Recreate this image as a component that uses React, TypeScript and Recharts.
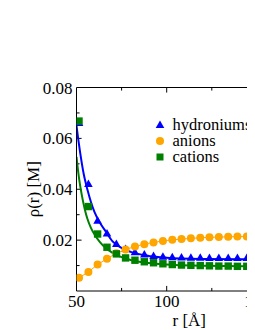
import {
  ComposedChart,
  XAxis,
  YAxis,
  Scatter,
  Line,
  ReferenceLine,
} from "recharts";

const FONT = '"Liberation Serif", "DejaVu Serif", "Noto Serif", Tinos, serif';

// sampled radii of the simulation points
const R = [
  51.4, 56.6, 61.7, 66.9, 72.1, 77.2, 82.4, 87.6, 92.7, 97.9, 103.1, 108.2,
  113.4, 118.6, 123.7, 128.9, 134.1, 139.2, 144.4, 149.6,
];
const HYDRONIUMS = [
  0.066, 0.0421, 0.0276, 0.0226, 0.0185, 0.0165, 0.0152, 0.0143, 0.0138,
  0.0135, 0.0133, 0.0132, 0.0131, 0.0131, 0.013, 0.013, 0.013, 0.013, 0.013,
  0.013,
];
const ANIONS = [
  0.0052, 0.0075, 0.0104, 0.0127, 0.0148, 0.0163, 0.0175, 0.0184, 0.0191,
  0.0197, 0.0201, 0.0204, 0.0207, 0.0209, 0.0211, 0.0212, 0.0213, 0.0214,
  0.0214, 0.0215,
];
const CATIONS = [
  0.0668, 0.0332, 0.0224, 0.0172, 0.0146, 0.013, 0.0121, 0.0115, 0.0111,
  0.0107, 0.0104, 0.0102, 0.0101, 0.01, 0.0099, 0.0098, 0.0098, 0.0097,
  0.0097, 0.0097,
];

// fitted curves
const FIT_R = [
  50, 51, 52, 53, 54, 55, 56, 58, 60, 63, 66, 70, 75, 80, 90, 100, 120, 150,
  175,
];
const FIT_HYDRONIUMS = [
  0.065, 0.0595, 0.0545, 0.05, 0.046, 0.0428, 0.04, 0.035, 0.031, 0.0268,
  0.0236, 0.0195, 0.0169, 0.0154, 0.0138, 0.0131, 0.0126, 0.0124, 0.0123,
];
const FIT_CATIONS = [
  0.0527, 0.0465, 0.0415, 0.0375, 0.034, 0.031, 0.0285, 0.0248, 0.0222,
  0.0192, 0.017, 0.015, 0.0133, 0.0122, 0.011, 0.0104, 0.0099, 0.0097,
  0.0096,
];

const X_TICKS = [50, 100, 150];
const X_MINOR = [75, 125, 175];
const Y_TICKS = [0.02, 0.04, 0.06, 0.08];
const Y_MINOR = [0.01, 0.03, 0.05, 0.07];

const BLUE = "#0000ff";
const ORANGE = "#ffa500";
const GREEN = "#008000";

const pts = (xs: number[], ys: number[]) => xs.map((r, i) => ({ r, v: ys[i] }));

const Triangle = (p: any) => (
  <polygon
    points={`${p.cx},${p.cy - 4.5} ${p.cx + 4.3},${p.cy + 3} ${p.cx - 4.3},${p.cy + 3}`}
    fill={BLUE}
  />
);
const Circle = (p: any) => <circle cx={p.cx} cy={p.cy} r={4} fill={ORANGE} />;
const Square = (p: any) => (
  <rect x={p.cx - 3.7} y={p.cy - 3.7} width={7.4} height={7.4} fill={GREEN} />
);

const LEGEND = [
  { name: "hydroniums", color: BLUE, kind: "triangle" },
  { name: "anions", color: ORANGE, kind: "circle" },
  { name: "cations", color: GREEN, kind: "square" },
];

const legendMarker = (kind: string, color: string) => {
  if (kind === "triangle") return <polygon points="8,3.5 12.3,11 3.7,11" fill={color} />;
  if (kind === "circle") return <circle cx={8} cy={8} r={4} fill={color} />;
  return <rect x={4.5} y={4.5} width={7} height={7} fill={color} />;
};

const tickFont = { fontSize: 17, fill: "#000", fontFamily: FONT };
const XT = 0.002; // tick lengths in data units
const XT_MINOR = 0.0012;
const YT = 2.8;
const YT_MINOR = 1.7;

export default function App() {
  return (
    <div
      style={{
        position: "relative",
        width: 247,
        height: 322,
        overflow: "hidden",
        fontFamily: FONT,
      }}
    >
      <ComposedChart
        width={310}
        height={322}
        margin={{ top: 79.5, right: 16, bottom: 0, left: 0 }}
      >
        <XAxis
          type="number"
          dataKey="r"
          domain={[50, 175]}
          ticks={X_TICKS}
          allowDataOverflow
          height={39}
          tickLine={false}
          tickSize={0}
          tickMargin={4}
          tick={tickFont}
          axisLine={{ stroke: "#000" }}
          label={{ value: "r [Å]", position: "center", dy: 9.5, ...tickFont }}
        />
        <YAxis
          type="number"
          dataKey="v"
          domain={[0, 0.08]}
          ticks={Y_TICKS}
          allowDataOverflow
          width={68.5}
          tickLine={false}
          tickSize={0}
          tickMargin={4}
          tick={tickFont}
          tickFormatter={(v: number) => v.toFixed(2)}
          axisLine={{ stroke: "#000" }}
          label={{
            value: "ρ(r) [M]",
            angle: -90,
            position: "center",
            dx: -9,
            ...tickFont,
          }}
        />
        <ReferenceLine y={0.08} stroke="#000" />
        {X_TICKS.slice(1).map((x) => (
          <ReferenceLine key={"xb" + x} segment={[{ x, y: 0 }, { x, y: XT }]} stroke="#000" />
        ))}
        {X_TICKS.slice(1).map((x) => (
          <ReferenceLine key={"xt" + x} segment={[{ x, y: 0.08 }, { x, y: 0.08 - XT }]} stroke="#000" />
        ))}
        {X_MINOR.map((x) => (
          <ReferenceLine key={"xbm" + x} segment={[{ x, y: 0 }, { x, y: XT_MINOR }]} stroke="#000" />
        ))}
        {X_MINOR.map((x) => (
          <ReferenceLine key={"xtm" + x} segment={[{ x, y: 0.08 }, { x, y: 0.08 - XT_MINOR }]} stroke="#000" />
        ))}
        {Y_TICKS.slice(0, 3).map((y) => (
          <ReferenceLine key={"y" + y} segment={[{ x: 50, y }, { x: 50 + YT, y }]} stroke="#000" />
        ))}
        {Y_MINOR.map((y) => (
          <ReferenceLine key={"ym" + y} segment={[{ x: 50, y }, { x: 50 + YT_MINOR, y }]} stroke="#000" />
        ))}
        <Line
          data={pts(FIT_R, FIT_HYDRONIUMS)}
          dataKey="v"
          type="monotone"
          stroke={BLUE}
          strokeWidth={2}
          dot={false}
          isAnimationActive={false}
        />
        <Line
          data={pts(FIT_R, FIT_CATIONS)}
          dataKey="v"
          type="monotone"
          stroke={GREEN}
          strokeWidth={2}
          dot={false}
          isAnimationActive={false}
        />
        <Scatter
          data={pts(R, HYDRONIUMS)}
          dataKey="v"
          shape={Triangle}
          isAnimationActive={false}
        />
        <Scatter
          data={pts(R, ANIONS)}
          dataKey="v"
          shape={Circle}
          line={{ stroke: ORANGE, strokeWidth: 1 }}
          isAnimationActive={false}
        />
        <Scatter
          data={pts(R, CATIONS)}
          dataKey="v"
          shape={Square}
          isAnimationActive={false}
        />
      </ComposedChart>
      <div style={{ position: "absolute", left: 144, top: 109, fontSize: 16.5 }}>
        {LEGEND.map((s) => (
          <div
            key={s.name}
            style={{ display: "flex", alignItems: "center", height: 16, lineHeight: "16px" }}
          >
            <svg width={16} height={16}>
              {legendMarker(s.kind, s.color)}
            </svg>
            <span style={{ marginLeft: 4.5 }}>{s.name}</span>
          </div>
        ))}
      </div>
    </div>
  );
}
